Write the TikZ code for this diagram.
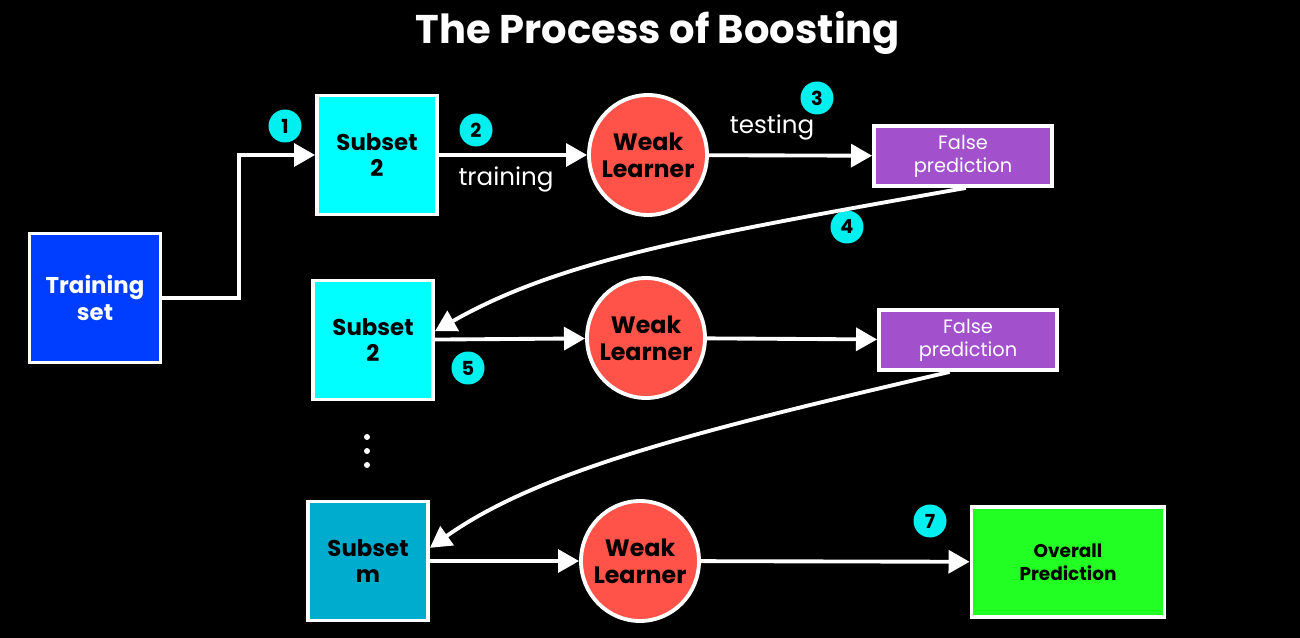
\documentclass[tikz,border=0pt]{standalone}
\usepackage{fontspec}
\setmainfont{Poppins}
\usetikzlibrary{arrows.meta,shapes}
\definecolor{trainblue}{RGB}{0,62,255}
\definecolor{subcyan}{RGB}{0,255,255}
\definecolor{subdark}{RGB}{0,172,206}
\definecolor{weakred}{RGB}{255,82,72}
\definecolor{falsepurple}{RGB}{162,80,204}
\definecolor{overgreen}{RGB}{34,255,34}
\definecolor{badgecyan}{RGB}{0,240,240}
\tikzstyle{box}=[rectangle,draw=white,line width=2.2pt,align=center,font=\fontsize{13}{15}\selectfont\bfseries,inner sep=0pt]
\tikzstyle{subset}=[box,fill=subcyan,minimum width=2.4cm,minimum height=2.38cm]
\tikzstyle{learner}=[ellipse,draw=white,line width=2.2pt,fill=weakred,minimum width=2.36cm,minimum height=2.4cm,align=center,inner sep=-3.2pt,font=\fontsize{13.5}{15.5}\selectfont\bfseries]
\tikzstyle{falsebox}=[rectangle,draw=white,line width=2.2pt,fill=falsepurple,minimum width=3.56cm,minimum height=1.2cm,align=center,inner sep=0pt,text=white,font=\fontsize{11}{13}\selectfont]
\tikzstyle{badge}=[circle,fill=badgecyan,minimum size=0.66cm,inner sep=0pt,font=\fontsize{11}{13}\selectfont\bfseries]
\tikzstyle{dot}=[circle,fill=white,minimum size=0.12cm,inner sep=0pt]
\tikzstyle{flow}=[draw=white,line width=2.2pt,-{Triangle[length=12pt,width=13pt]}]

\begin{document}
\begin{tikzpicture}[x=0.02cm,y=-0.02cm]
    % background
    \fill[black] (0,0) rectangle (1300,638);
    \useasboundingbox (0,0) rectangle (1300,638);
    \node[text=white,font=\fontsize{22.8}{26}\selectfont\bfseries] (title) at (658,33) {The Process of Boosting};

    % First the boxes
    \node[box,fill=trainblue,text=white,minimum width=2.62cm,minimum height=2.58cm] (train) at (95,298) {Training\\set};
    \node[subset] (sub1) at (377,155) {Subset\\2};
    \node[subset] (sub2) at (373,340) {Subset\\2};
    \node[subset,fill=subdark] (subm) at (368,561) {Subset\\m};
    \node[box,fill=overgreen,minimum width=3.86cm,minimum height=2.2cm,font=\fontsize{10.5}{13}\selectfont\bfseries] (overall) at (1068,562) {Overall\\Prediction};

    \foreach \pos/\name in {{(648,155)/wl1}, {(646,338)/wl2}, {(640,561)/wl3}}
        \node[learner] (\name) at \pos {Weak\\Learner};

    \foreach \pos/\name in {{(963,156)/fp1}, {(968,340)/fp2}}
        \node[falsebox] (\name) at \pos {False\\prediction};

    % the dots between subsets
    \foreach \y/\name in {437/d1, 451/d2, 465/d3}
        \node[dot] (\name) at (367,\y) {};

    % numbered badges
    \foreach \pos/\name/\num in {{(285,126)/b1/1}, {(476,130)/b2/2}, {(817,98)/b3/3}, {(847,227)/b4/4}, {(468,368)/b5/5}, {(930,521)/b7/7}}
        \node[badge] (\name) at \pos {\num};

    \node[text=white,font=\fontsize{14}{16}\selectfont] (trn) at (506,179) {training};
    \node[text=white,font=\fontsize{14}{16}\selectfont] (tst) at (772,127) {testing};

    % Connect with arrows
    \draw[flow] (train.east) -- ++(77,0) |- (sub1.west);
    \foreach \source/\dest in {sub1/wl1, wl1/fp1, sub2/wl2, wl2/fp2, subm/wl3, wl3/overall}
        \path[flow] (\source) -- (\dest);
    \draw[flow] (fp1.-85) .. controls (700,235) and (560,260) .. (sub2.8);
    \draw[flow] (fp2.-120) .. controls (700,430) and (540,470) .. (subm.12);
\end{tikzpicture}
\end{document}
